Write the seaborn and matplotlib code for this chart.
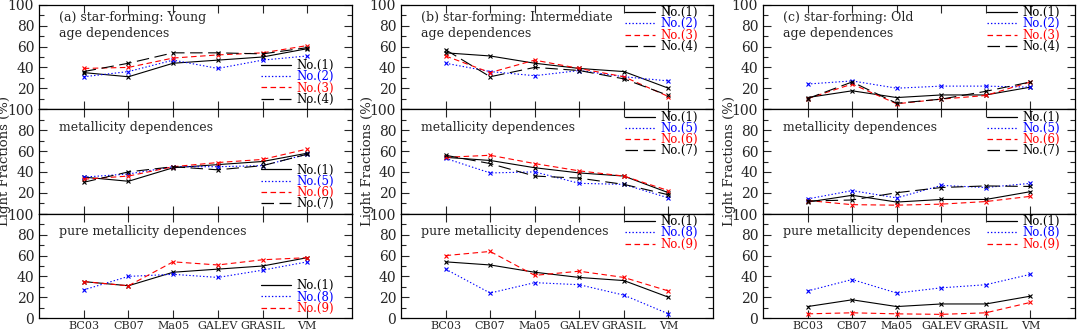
import matplotlib
matplotlib.use("Agg")
import matplotlib.pyplot as plt
from matplotlib.lines import Line2D
from matplotlib.ticker import MultipleLocator
import seaborn as sns

# models on the x axis
models = ["BC03", "CB07", "Ma05", "GALEV", "GRASIL", "VM"]

panel_titles = ["(a) star-forming: Young",
                "(b) star-forming: Intermediate",
                "(c) star-forming: Old"]
row_titles = ["age dependences", "metallicity dependences", "pure metallicity dependences"]
row_series = [["No.(1)", "No.(2)", "No.(3)", "No.(4)"],
              ["No.(1)", "No.(5)", "No.(6)", "No.(7)"],
              ["No.(1)", "No.(8)", "No.(9)"]]

# light fractions (%)
young = {
    "No.(1)": [35, 31, 44, 47, 50, 58],
    "No.(2)": [31, 36, 47, 39, 47, 51],
    "No.(3)": [39, 40, 49, 52, 54, 61],
    "No.(4)": [36, 44, 54, 54, 53, 59],
    "No.(5)": [35, 38, 45, 45, 46, 57],
    "No.(6)": [33, 36, 45, 49, 52, 62],
    "No.(7)": [30, 40, 45, 42, 46, 57],
    "No.(8)": [27, 40, 42, 39, 46, 54],
    "No.(9)": [35, 31, 54, 51, 56, 58],
}
intermediate = {
    "No.(1)": [54, 51, 44, 39, 36, 20],
    "No.(2)": [44, 36, 32, 37, 31, 27],
    "No.(3)": [51, 35, 47, 39, 31, 12],
    "No.(4)": [57, 31, 40, 37, 29, 13],
    "No.(5)": [53, 39, 40, 29, 28, 15],
    "No.(6)": [54, 56, 48, 41, 36, 22],
    "No.(7)": [56, 48, 36, 34, 28, 18],
    "No.(8)": [47, 24, 34, 32, 22, 4],
    "No.(9)": [60, 64, 41, 45, 39, 26],
}
old = {
    "No.(1)": [11, 17.5, 11, 13.5, 13.5, 21],
    "No.(2)": [24, 27, 20, 22, 22, 21],
    "No.(3)": [10, 24, 5, 9.5, 13, 26],
    "No.(4)": [10, 26, 5.5, 9.5, 17, 26],
    "No.(5)": [14, 22, 15, 27, 25, 29],
    "No.(6)": [12.5, 8.5, 8, 9, 11.5, 16.5],
    "No.(7)": [12, 13, 20, 25, 26.5, 26],
    "No.(8)": [26, 37, 24, 29, 32, 42],
    "No.(9)": [4, 5, 4, 3.5, 5, 15],
}
populations = [young, intermediate, old]

# line style by position in the legend
styles = [("black", "-"),
          ("blue", (0, (1, 1.5))),
          ("red", (0, (4, 2.5))),
          ("black", (0, (9, 4)))]

sns.set_style("ticks")
plt.rcParams["font.family"] = ["DejaVu Serif"]
plt.rcParams["lines.scale_dashes"] = False

W, H = 1077, 333
fig = plt.figure(figsize=(W / 100, H / 100), dpi=100)

col_left = [39, 401, 763]
col_width = [313, 312, 312]
row_top = [5, 109.5, 214]
row_h = 104

for j, pop in enumerate(populations):
    for i in range(3):
        ax = fig.add_axes([col_left[j] / W, 1 - (row_top[i] + row_h) / H,
                           col_width[j] / W, row_h / H])
        handles = []
        for k, name in enumerate(row_series[i]):
            color, ls = styles[k]
            sns.lineplot(x=models, y=pop[name], ax=ax, color=color, linestyle=ls,
                         lw=0.8, marker="x", markersize=3.5, markeredgecolor=color,
                         mew=0.8, sort=False)
            handles.append(Line2D([], [], color=color, linestyle=ls, lw=0.9, label=name))

        ax.set_xlim(-1, 6)
        ax.set_ylim(0, 100)
        ax.set_xticks(range(len(models)))
        ax.yaxis.set_major_locator(MultipleLocator(20))
        ax.yaxis.set_minor_locator(MultipleLocator(10))
        ax.tick_params(which="both", direction="in", top=True, right=True,
                       width=0.8, pad=3.5)
        ax.tick_params(axis="y", labelsize=10)
        ax.tick_params(axis="x", labelsize=8, pad=2)
        ax.tick_params(which="major", length=6)
        ax.tick_params(which="minor", length=3.5)
        for s in ax.spines.values():
            s.set_linewidth(0.9)
            s.set_color("black")

        if i < 2:
            ax.set_xticklabels([])
            ax.set_yticks([0, 20, 40, 60, 80, 100])
            ax.set_yticklabels(["", "20", "40", "60", "80", "100"])
        else:
            ax.set_xticklabels(models)
        ax.set_xlabel("")
        ax.set_ylabel("")

        if i == 0:
            ax.text(0.065, 1 - 12 / row_h, panel_titles[j], transform=ax.transAxes,
                    fontsize=9, va="center")
            ax.text(0.065, 1 - 28 / row_h, row_titles[i], transform=ax.transAxes,
                    fontsize=9, va="center")
        else:
            ax.text(0.065, 1 - 18 / row_h, row_titles[i], transform=ax.transAxes,
                    fontsize=9, va="center")

        if j == 0:
            loc, anchor = "lower right", (1 - 17 / col_width[j], 0.02)
        else:
            loc, anchor = "upper right", (1 - 14 / col_width[j], 1.0)
        ax.legend(handles=handles, loc=loc, bbox_to_anchor=anchor, frameon=False,
                  fontsize=8.5, labelcolor="linecolor", handlelength=2.6,
                  labelspacing=-0.15, handletextpad=0.4, borderpad=0.1,
                  borderaxespad=0.0)

    fig.text((col_left[j] - 34) / W, 1 - (row_top[1] + row_h / 2) / H,
             "Light Fractions (%)", rotation=90, ha="center", va="center", fontsize=9.5)

fig.savefig("out.png", dpi=100)
